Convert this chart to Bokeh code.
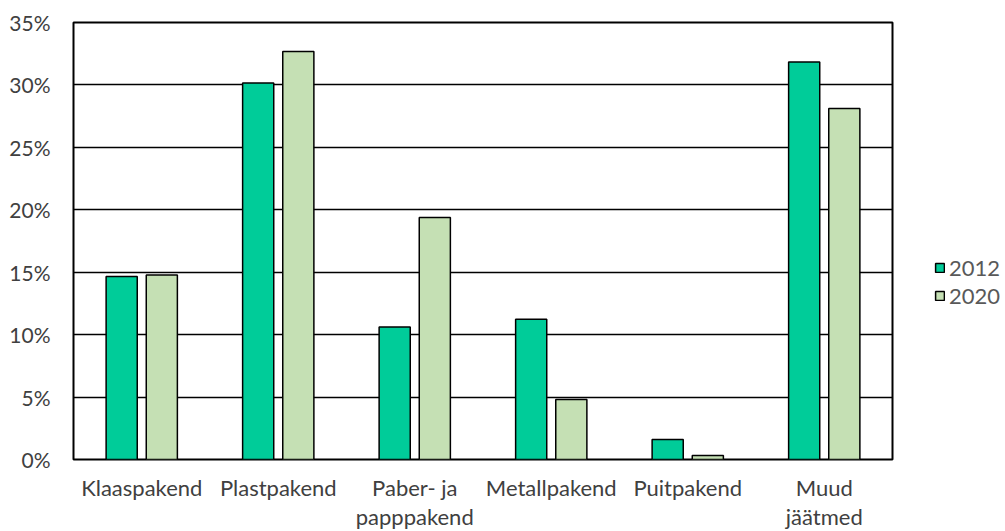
from bokeh.plotting import figure
from bokeh.models import (ColumnDataSource, FactorRange, FixedTicker,
                          NumeralTickFormatter, Legend, LegendItem)
from bokeh.transform import dodge
from bokeh.embed import file_html
from bokeh.resources import INLINE

# Packaging waste composition, share of total
categories = ["Klaaspakend", "Plastpakend", "Paber- ja\npapppakend",
              "Metallpakend", "Puitpakend", "Muud\njäätmed"]
share_2012 = [0.1466, 0.3015, 0.1062, 0.1124, 0.0160, 0.3184]
share_2020 = [0.1478, 0.3268, 0.1938, 0.0480, 0.0032, 0.2811]
y_ticks = [0, 0.05, 0.10, 0.15, 0.20, 0.25, 0.30, 0.35]

FONT = "Lato"
TEXT_COLOR = "#404040"

src = ColumnDataSource(dict(cat=categories, y2012=share_2012, y2020=share_2020))

p = figure(x_range=FactorRange(*categories, range_padding=0),
           y_range=(0, 0.35),
           frame_width=819, frame_height=437,
           output_backend="svg", toolbar_location=None,
           min_border_left=73, min_border_right=113,
           min_border_top=22, min_border_bottom=66)

r1 = p.vbar(x=dodge("cat", -0.147, range=p.x_range), top="y2012", width=0.228,
            source=src, fill_color="#00CC99", line_color="black", line_width=1.5)
r2 = p.vbar(x=dodge("cat", 0.147, range=p.x_range), top="y2020", width=0.228,
            source=src, fill_color="#C5E0B4", line_color="black", line_width=1.5)

# frame and grid
p.outline_line_color = "black"
p.outline_line_width = 2
p.xgrid.grid_line_color = None
p.ygrid.grid_line_color = "black"
p.ygrid.grid_line_width = 1.3

# y axis
p.yaxis.ticker = FixedTicker(ticks=y_ticks)
p.yaxis.formatter = NumeralTickFormatter(format="0%")
p.yaxis.axis_line_color = None
p.yaxis.major_tick_line_color = None
p.yaxis.minor_tick_line_color = None
p.yaxis.major_label_standoff = 17
p.yaxis.major_label_text_font = FONT
p.yaxis.major_label_text_font_size = "21px"
p.yaxis.major_label_text_color = TEXT_COLOR

# x axis
p.xaxis.axis_line_color = None
p.xaxis.major_tick_line_color = None
p.xaxis.minor_tick_line_color = None
p.xaxis.major_label_standoff = 8
p.xaxis.major_label_text_font = FONT
p.xaxis.major_label_text_font_size = "22px"
p.xaxis.major_label_text_color = TEXT_COLOR
p.xaxis.major_label_text_line_height = 1.1

legend = Legend(items=[LegendItem(label="2012", renderers=[r1]),
                       LegendItem(label="2020", renderers=[r2])],
                location=(42, 150), orientation="vertical",
                glyph_width=11, glyph_height=11, label_standoff=4,
                spacing=1, padding=0, margin=0,
                border_line_color=None, background_fill_alpha=0,
                label_text_font=FONT, label_text_font_size="22px",
                label_text_color="#595959")
p.add_layout(legend, "right")

open("out.html", "w").write(file_html(p, INLINE))
